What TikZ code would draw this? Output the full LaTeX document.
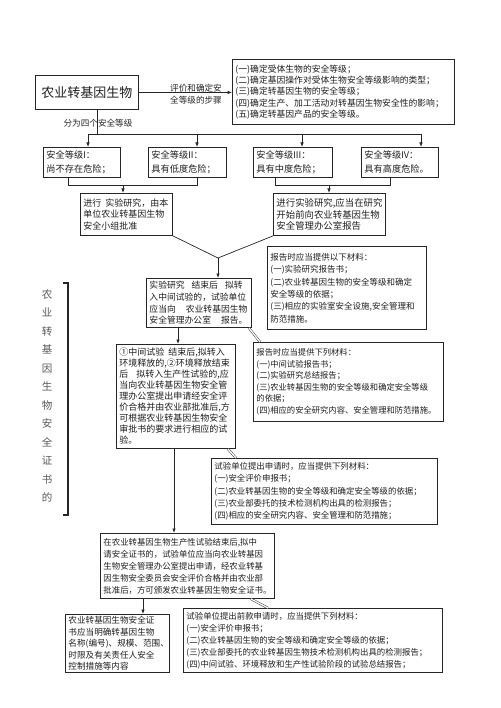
\documentclass[tikz,border=0pt]{standalone}
\usepackage{fontspec}
\setmainfont{Noto Sans CJK SC}
\usetikzlibrary{arrows.meta,calc,shadows}
\setlength{\parindent}{0pt}
\begin{document}
\begin{tikzpicture}[x=1pt,y=-1pt,
  bx/.style={draw=black!85, fill=white, line width=0.9pt, align=left, inner xsep=3pt, inner ysep=0pt, anchor=north west, text=black!88,
    drop shadow={shadow xshift=0.9pt, shadow yshift=-0.9pt, fill=black!75, opacity=1}},
  fs/.style 2 args={font=\fontsize{#1}{#2}\selectfont},
  arr/.style={draw=black!85, line width=0.7pt, -{Latex[length=4.5pt,width=3.5pt]}},
  ln/.style={draw=black!85, line width=0.7pt},
  dbl/.style={draw=black!85, line width=0.45pt, double, double distance=1.3pt},
  lbl/.style={text=black!85, align=center, inner sep=0pt}]
\useasboundingbox (0,0) rectangle (500,708);
\fill[white] (0,0) rectangle (500,708);

% title and steps
\node[bx, fs={13}{15}, minimum width=103pt, minimum height=34pt, align=center, inner xsep=0pt] (T) at (35,75) {农业转基因生物};
\node[bx, fs={8.8}{11.2}, text width=216pt, minimum height=65pt] (S) at (232,59) {(一)确定受体生物的安全等级；\\(二)确定基因操作对受体生物安全等级影响的类型；\\(三)确定转基因生物的安全等级；\\(四)确定生产、加工活动对转基因生物安全性的影响；\\(五)确定转基因产品的安全等级。};
\draw[arr] (T.east) -- (T.east -| S.west);
\node[lbl, fs={8.6}{12.5}] (lab1) at (196,94) {评价和确定安\\全等级的步骤};

% levels
\node[bx, fs={9.2}{14}, text width=71pt, minimum height=30pt] (L1) at (43,147) {安全等级I：\\尚不存在危险；};
\node[bx, fs={9.2}{14}, text width=72pt, minimum height=30pt] (L2) at (148,147) {安全等级II：\\具有低度危险；};
\node[bx, fs={9.2}{14}, text width=73pt, minimum height=30pt] (L3) at (253,147) {安全等级III：\\具有中度危险；};
\node[bx, fs={9.2}{14}, text width=71pt, minimum height=30pt] (L4) at (361,147) {安全等级IV：\\具有高度危险。};

\coordinate (hub) at (97,134);
\coordinate (b1) at (88,134);
\coordinate (b2) at (197,134);
\coordinate (b3) at (302,134);
\coordinate (b4) at (421,134);
\draw[ln] (hub |- T.south) -- (hub);
\draw[ln] (b1) -- (b4);
\foreach \n/\b in {L1/b1,L2/b2,L3/b3,L4/b4} \draw[arr] (\b) -- (\b |- \n.north);
\node[lbl, fs={8.6}{10}] (lab2) at (98,123) {分为四个安全等级};

% A, B
\node[bx, fs={9}{11.7}, text width=86pt, minimum height=42pt] (A) at (80,193) {进行\kern4pt实验研究，由本\\单位农业转基因生物\\安全小组批准};
\node[bx, fs={9.4}{11.7}, text width=106pt, minimum height=42pt] (B) at (273,193) {进行实验研究,应当在研究\\开始前向农业转基因生物\\安全管理办公室报告};

\coordinate (j1) at (68,185);
\coordinate (j2) at (197,185);
\coordinate (jA) at (123,185);
\coordinate (j3) at (275,185);
\coordinate (j4) at (390,185);
\coordinate (jB) at (329,185);
\draw[ln] (j1 |- L1.south) -- (j1) -- (j2) -- (j2 |- L2.south);
\draw[arr] (jA) -- (jA |- A.north);
\draw[ln] (j3 |- L3.south) -- (j3) -- (j4) -- (j4 |- L4.south);
\draw[arr] (jB) -- (jB |- B.north);

% C, D
\node[bx, fs={8.8}{11.8}, text width=99pt, minimum height=49pt] (C) at (146,278) {实验研究\kern7pt结束后\kern7pt拟转\\入中间试验的，试验单位\\应当向\kern10pt农业转基因生物\\安全管理办公室\kern10pt报告。};
\node[bx, fs={8.5}{12.4}, text width=153pt, minimum height=83pt] (D) at (267,246) {报告时应当提供以下材料：\\(一)实验研究报告书；\\(二)农业转基因生物的安全等级和确定\\安全等级的依据；\\(三)相应的实验室安全设施,安全管理和\\防范措施。};

\coordinate (m) at (218,258);
\draw[ln] (A.south east) -- (m) -- (B.south west);
\draw[arr] (m) -- (m |- C.north);
\coordinate (dB) at (365,0);
\draw[dbl] (dB |- B.south) -- (dB |- D.north);

% E, F
\node[bx, fs={9}{11}, text width=113pt, minimum height=104pt] (E) at (116,344) {①中间试验\kern4pt结束后,拟转入\\环境释放的,②环境释放结束\\后\kern8pt拟转入生产性试验的,应\\当向农业转基因生物安全管\\理办公室提出申请经安全评\\价合格并由农业部批准后,方\\可根据农业转基因生物安全\\审批书的要求进行相应的试\\验。};
\node[bx, fs={8.3}{11.5}, text width=184pt, minimum height=79pt] (F) at (253,342) {报告时应当提供下列材料：\\(一)中间试验报告书；\\(二)实验研究总结报告；\\(三)农业转基因生物的安全等级和确定安全等级\\的依据；\\(四)相应的安全研究内容、安全管理和防范措施。};

\coordinate (cE) at (178,0);
\draw[arr] (cE |- C.south) -- (cE |- E.north);
\draw[dbl] ($(C.south east)+(-3,0)$) -- ($(F.north west)+(7,0)$);

% G, H
\node[bx, fs={8.4}{12.3}, text width=220pt, minimum height=66pt] (G) at (211,458) {试验单位提出申请时，应当提供下列材料：\\(一)安全评价申报书；\\(二)农业转基因生物的安全等级和确定安全等级的依据；\\(三)农业部委托的技术检测机构出具的检测报告；\\(四)相应的安全研究内容、安全管理和防范措施；};
\node[bx, fs={8.4}{12}, text width=168pt, minimum height=65pt] (H) at (100,533) {在农业转基因生物生产性试验结束后,拟中\\请安全证书的，试验单位应当向农业转基因\\生物安全管理办公室提出申请，经农业转基\\因生物安全委员会安全评价合格并由农业部\\批准后，方可颁发农业转基因生物安全证书。};

\coordinate (eH) at (174,0);
\draw[arr] (eH |- E.south) -- (eH |- H.north);
\draw[dbl] ($(E.south east)+(-8,0)$) -- ($(G.north west)+(25,0)$);

% K, I
\node[bx, fs={8.6}{11.5}, text width=98pt, minimum height=58pt, inner xsep=3pt] (K) at (65,614) {农业转基因生物安全证\\书应当明确转基因生物\\名称(编号)、规模、范围、\\时限及有关责任人安全\\控制措施等内容};
\node[bx, fs={8.4}{12}, text width=253pt, minimum height=64pt] (I) at (183,608) {试验单位提出前款申请时，应当提供下列材料：\\(一)安全评价申报书；\\(二)农业转基因生物的安全等级和确定安全等级的依据；\\(三)农业部委托的农业转基因生物技术检测机构出具的检测报告；\\(四)中间试验、环境释放和生产性试验阶段的试验总结报告；};

\coordinate (hK) at (143,0);
\draw[arr] (hK |- H.south) -- (hK |- K.north);
\draw[dbl] ($(H.south east)+(-24,0)$) -- ($(I.north west)+(85,0)$);

% bracket and vertical label
\draw[line width=1.2pt, draw=black!85] (63,283) -- (68,283) -- (68,515) -- (63,515);
\node[lbl, text=black!65, fs={10.5}{18.5}] (vt) at (47,396) {农\\业\\转\\基\\因\\生\\物\\安\\全\\证\\书\\的};
\end{tikzpicture}
\end{document}
